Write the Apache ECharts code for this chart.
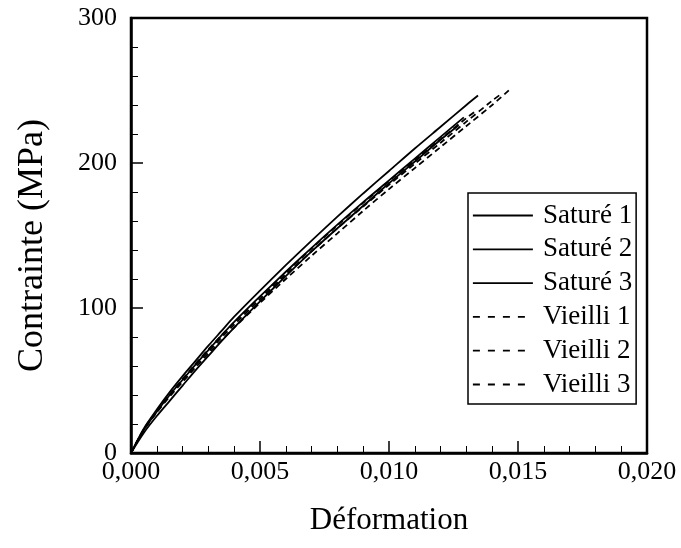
<!DOCTYPE html>
<html>
<head>
<meta charset="utf-8">
<script src="https://cdn.jsdelivr.net/npm/echarts@6/dist/echarts.min.js"></script>
<style>
  html, body { margin: 0; padding: 0; background: #fff; }
  #chart { width: 681px; height: 548px; }
</style>
</head>
<body>
<div id="chart"></div>
<script>
// Stress-strain curves: saturated vs aged specimens
const seriesNames = ['Saturé 1', 'Saturé 2', 'Saturé 3', 'Vieilli 1', 'Vieilli 2', 'Vieilli 3'];

const strainS1 = [0, 0.0005, 0.001, 0.0015, 0.002, 0.0025, 0.003, 0.0035, 0.004, 0.005, 0.006, 0.007, 0.008, 0.009, 0.010, 0.011, 0.012, 0.013, 0.01345];
const stressS1 = [0, 17, 30, 42, 53, 63.5, 74, 84, 94, 112, 129.5, 146.5, 163, 179, 194.5, 210, 225, 240, 246.5];

const strainS2 = [0, 0.0005, 0.001, 0.0015, 0.002, 0.0025, 0.003, 0.0035, 0.004, 0.005, 0.006, 0.007, 0.008, 0.009, 0.010, 0.011, 0.012, 0.0129];
const stressS2 = [0, 16, 28.5, 40, 50.5, 61, 71, 81, 90.5, 108, 125, 141.5, 157.5, 173, 188, 203, 218, 231.5];

const strainS3 = [0, 0.0005, 0.001, 0.0015, 0.002, 0.0025, 0.003, 0.0035, 0.004, 0.005, 0.006, 0.007, 0.008, 0.009, 0.010, 0.011, 0.012, 0.0127];
const stressS3 = [0, 14, 25.5, 36, 46.5, 57, 67, 77, 86.5, 104.5, 122, 139, 155, 170.5, 186, 201, 216, 226];

const strainV1 = [0, 0.0005, 0.001, 0.0015, 0.002, 0.0025, 0.003, 0.0035, 0.004, 0.005, 0.006, 0.007, 0.008, 0.009, 0.010, 0.011, 0.012, 0.013, 0.014, 0.0147];
const stressV1 = [0, 16, 28, 39, 49, 59, 68.5, 77.5, 86.5, 103.5, 120, 136, 151.5, 167, 182, 196.5, 211, 225.5, 240, 251];

const strainV2 = [0, 0.0005, 0.001, 0.0015, 0.002, 0.0025, 0.003, 0.0035, 0.004, 0.005, 0.006, 0.007, 0.008, 0.009, 0.010, 0.011, 0.012, 0.013, 0.014, 0.0143];
const stressV2 = [0, 16.5, 29, 40, 50.5, 60.5, 70, 79.5, 88.5, 106, 123, 139, 155, 170, 185, 199.5, 214, 228.5, 243, 247];

const strainV3 = [0, 0.0005, 0.001, 0.0015, 0.002, 0.0025, 0.003, 0.0035, 0.004, 0.005, 0.006, 0.007, 0.008, 0.009, 0.010, 0.011, 0.012, 0.013, 0.0133];
const stressV3 = [0, 16, 28.5, 40, 51, 61.5, 71.5, 81, 90, 107.5, 124.5, 141, 157, 172.5, 187.5, 202, 216.5, 231, 235];

const strainTicks = [0, 0.005, 0.010, 0.015, 0.020];
const stressTicks = [0, 100, 200, 300];

const curves = [
  [strainS1, stressS1], [strainS2, stressS2], [strainS3, stressS3],
  [strainV1, stressV1], [strainV2, stressV2], [strainV3, stressV3]
];

const FONT = '"Liberation Serif", "Times New Roman", serif';
const chart = echarts.init(document.getElementById('chart'), null, { renderer: 'canvas' });

const series = curves.map(function (c, i) {
  const dashed = i >= 3;
  return {
    name: seriesNames[i],
    type: 'line',
    data: c[0].map(function (x, k) { return [x, c[1][k]]; }),
    smooth: 0.3,
    symbol: 'none',
    lineStyle: { color: '#000', width: 1.8, type: dashed ? [6, 4] : 'solid' },
    itemStyle: { color: '#000' },
    z: 3
  };
});

chart.setOption({
  animation: false,
  backgroundColor: '#fff',
  grid: {
    left: 131, right: 34, top: 18, bottom: 95,
    show: true, borderColor: '#000', borderWidth: 2.5, backgroundColor: 'transparent'
  },
  legend: {
    orient: 'vertical',
    left: 468, top: 193,
    padding: [9, 4, 6, 4],
    itemGap: 6.8,
    itemWidth: 60,
    itemHeight: 26,
    borderColor: '#000', borderWidth: 1.5,
    backgroundColor: '#fff',
    textStyle: { fontFamily: FONT, fontSize: 27, color: '#000', lineHeight: 26, padding: [0, 0, 0, 5] },
    data: seriesNames.map(function (n, i) {
      return {
        name: n,
        itemStyle: { opacity: 0 },
        lineStyle: { color: '#000', width: 1.8, opacity: 1, type: i >= 3 ? [7, 8] : 'solid' }
      };
    }),
    selectedMode: false
  },
  xAxis: {
    type: 'value',
    min: strainTicks[0], max: strainTicks[strainTicks.length - 1], interval: 0.005,
    name: 'Déformation',
    nameLocation: 'middle', nameGap: 52,
    nameTextStyle: { fontFamily: FONT, fontSize: 31, color: '#000' },
    axisLine: { show: true, lineStyle: { color: '#000', width: 2.5 } },
    axisTick: { show: true, inside: true, length: 12, lineStyle: { color: '#000', width: 1.5 } },
    minorTick: { show: true, splitNumber: 5, length: 7, lineStyle: { color: '#000', width: 1 } },
    splitLine: { show: false },
    axisLabel: {
      fontFamily: FONT, fontSize: 26, color: '#000', margin: 6,
      formatter: function (v) { return v.toFixed(3).replace('.', ','); }
    }
  },
  yAxis: {
    type: 'value',
    min: stressTicks[0], max: stressTicks[stressTicks.length - 1], interval: 100,
    name: 'Contrainte (MPa)',
    nameLocation: 'middle', nameGap: 80,
    nameTextStyle: { fontFamily: FONT, fontSize: 36, color: '#000', padding: [0, 20, 0, 0] },
    axisLine: { show: true, lineStyle: { color: '#000', width: 2.5 } },
    axisTick: { show: true, inside: true, length: 12, lineStyle: { color: '#000', width: 1.5 } },
    minorTick: { show: true, splitNumber: 5, length: 7, lineStyle: { color: '#000', width: 1 } },
    splitLine: { show: false },
    axisLabel: { fontFamily: FONT, fontSize: 26, color: '#000', margin: 14 }
  },
  series: series
});
</script>
</body>
</html>
